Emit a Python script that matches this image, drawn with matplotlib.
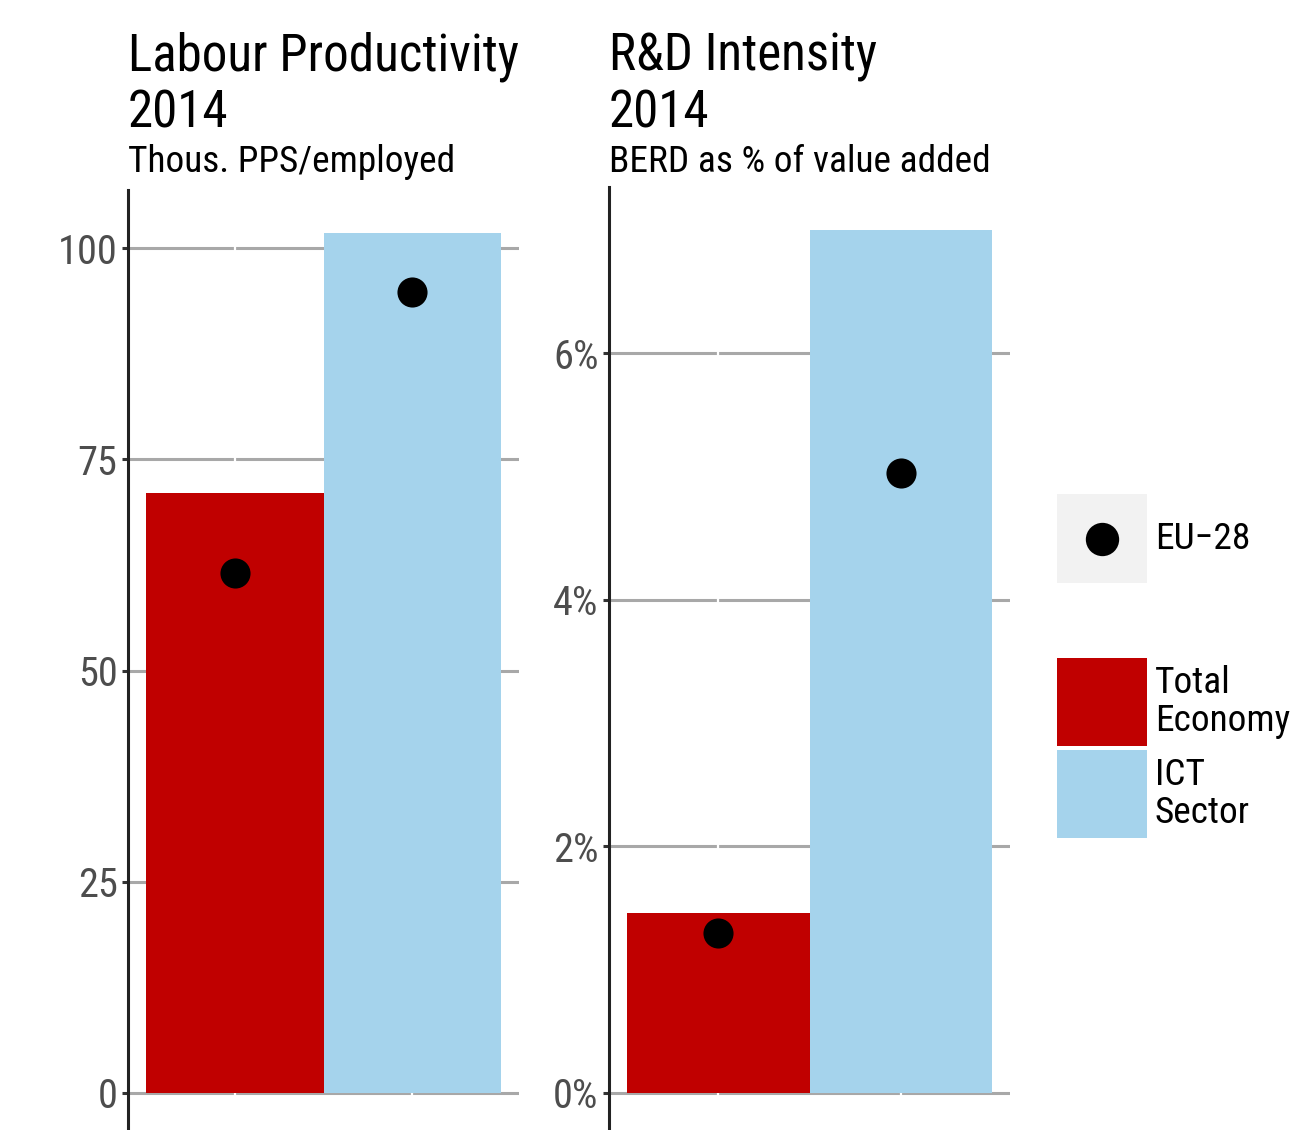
import matplotlib
matplotlib.use("Agg")
from matplotlib import pyplot as plt
from matplotlib import font_manager
from matplotlib.patches import Rectangle
from matplotlib.ticker import FuncFormatter

# data
sectors = ["Total Economy", "ICT Sector"]
legend_labels = ["Total\nEconomy", "ICT\nSector"]
productivity = [71.0, 101.8]        # thous. PPS / employed
productivity_eu = [61.6, 94.8]
rd_intensity = [1.46, 7.00]         # BERD as % of value added
rd_intensity_eu = [1.30, 5.03]
prod_ticks = [0, 25, 50, 75, 100]
rd_ticks = [0, 2, 4, 6]

colors = ["#c00000", "#a5d3ec"]
W, H = 1293, 1130

# a narrow face if one is around, else Roboto
installed = {f.name for f in font_manager.fontManager.ttflist}
narrow = [name for name in ("Roboto Condensed", "Liberation Sans Narrow",
  "Open Sans Condensed", "Noto Sans Condensed", "DejaVu Sans Condensed")
  if name in installed]
plt.rcParams["font.family"] = narrow[:1] + ["Roboto", "DejaVu Sans"]
scale = 1.0 if not narrow else 1.12

fig = plt.figure(figsize=(W / 100, H / 100), dpi=100)


def fx(x):
  return x / W


def fy(y):
  return 1 - y / H


def panel(left, right, top, values, eu, ticks, title, subtitle, fmt=None):
  ax = fig.add_axes([fx(left), fy(1136), fx(right - left), (1136 - top) / H])
  x = list(range(1, len(values) + 1))
  ax.bar(x, values, width=1.0, color=colors, zorder=1)
  ax.scatter(x, eu, s=470, color="black", zorder=3, linewidths=0)
  for xi in x:
    ax.axvline(xi, color="white", lw=1.6, zorder=0.8)
  top_val = max(values)
  ax.set_xlim(0.4, len(values) + 0.6)
  ax.set_ylim(-0.05 * top_val, 1.05 * top_val)
  ax.set_yticks(ticks)
  if fmt:
    ax.yaxis.set_major_formatter(FuncFormatter(fmt))
  ax.set_axisbelow(True)
  ax.yaxis.grid(True, color="#a8a8a8", lw=2.2)
  ax.set_xticks(x)
  ax.tick_params(axis="x", length=0, labelbottom=False)
  ax.tick_params(axis="y", length=4.5, width=2.2, color="#333333",
    labelcolor="#4d4d4d", labelsize=26 * scale, pad=3,
  )
  for side in ("top", "right", "bottom"):
    ax.spines[side].set_visible(False)
  ax.spines["left"].set_color("#222222")
  ax.spines["left"].set_linewidth(2.2)

  line1, line2 = title
  fig.text(fx(left), fy(70), line1, fontsize=32.8 * scale, va="baseline")
  fig.text(fx(left), fy(127), line2, fontsize=32.8 * scale, va="baseline")
  fig.text(fx(left), fy(172), subtitle, fontsize=24 * scale, va="baseline")
  return ax


panel(128, 519, 190, productivity, productivity_eu, prod_ticks,
  ("Labour Productivity", "2014"), "Thous. PPS/employed",
)
panel(609, 1010, 187, rd_intensity, rd_intensity_eu, rd_ticks,
  ("R&D Intensity", "2014"), "BERD as % of value added",
  fmt=lambda v, pos: f"{v:.0f}%",
)

# legend, drawn by hand at the right
fig.add_artist(Rectangle((fx(1057), fy(583)), fx(90), 89 / H,
  transform=fig.transFigure, facecolor="#f2f2f2", edgecolor="none",
))
fig.add_artist(plt.Line2D([fx(1102)], [fy(539)], marker="o", markersize=24,
  color="black", markeredgewidth=0, transform=fig.transFigure,
))
fig.text(fx(1155), fy(539), "EU\u221228", fontsize=24 * scale, va="center")

key_tops = [658, 750]
for color, label, top in zip(colors, legend_labels, key_tops):
  fig.add_artist(Rectangle((fx(1057), fy(top + 88)), fx(90), 88 / H,
    transform=fig.transFigure, facecolor=color, edgecolor="none",
  ))
  fig.text(fx(1155), fy(top + 44), label, fontsize=24 * scale, va="center",
    linespacing=1.1,
  )

fig.savefig("out.png", dpi=100)
